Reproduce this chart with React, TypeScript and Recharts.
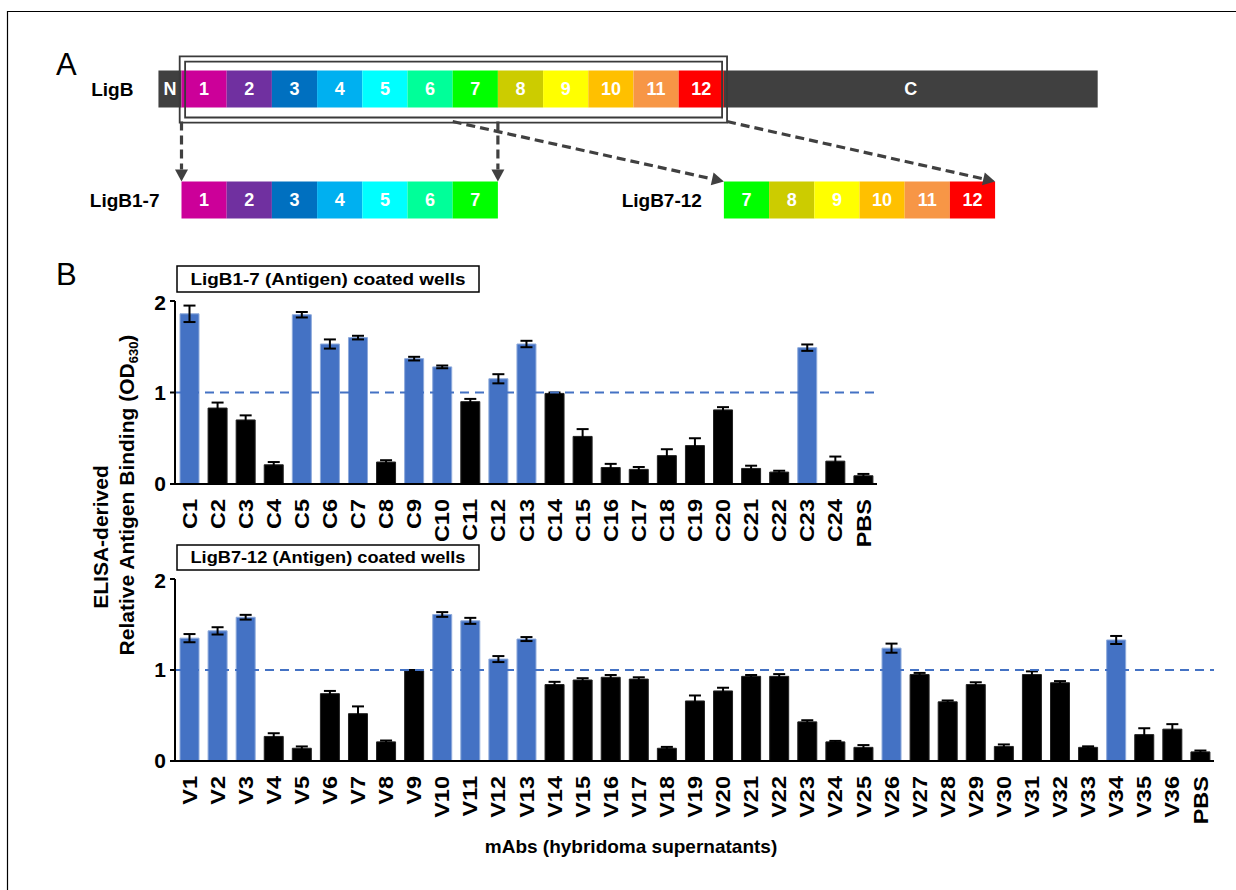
import React from 'react';
import {
  BarChart,
  Bar,
  XAxis,
  YAxis,
  Cell,
  ErrorBar,
  ReferenceLine,
  ReferenceArea,
  ComposedChart,
  Scatter,
} from 'recharts';

const FONT = '"Liberation Sans", Arial, Helvetica, sans-serif';
const BLUE = '#4472C4';
const DARK = '#404040';

// ---------- Panel A data ----------
const domainColors = [
  '#CC0099', '#7030A0', '#0070C0', '#00B0F0', '#00FFFF', '#00FF99',
  '#00FF00', '#CCCC00', '#FFFF00', '#FFC000', '#F79646', '#FF0000',
];
const terminalColor = '#404040';
const ligBSegments = ['N', '1', '2', '3', '4', '5', '6', '7', '8', '9', '10', '11', '12', 'C'];
const ligBLengths = [0.51, 1, 1, 1, 1, 1, 1, 1, 1, 1, 1, 1, 1, 8.27];
const ligB17Domains = [1, 2, 3, 4, 5, 6, 7];
const ligB712Domains = [7, 8, 9, 10, 11, 12];

// ---------- Panel B data ----------
const cLabels = ['C1', 'C2', 'C3', 'C4', 'C5', 'C6', 'C7', 'C8', 'C9', 'C10', 'C11', 'C12', 'C13', 'C14', 'C15', 'C16', 'C17', 'C18', 'C19', 'C20', 'C21', 'C22', 'C23', 'C24', 'PBS'];
const cValues = [1.86, 0.83, 0.70, 0.21, 1.85, 1.53, 1.60, 0.24, 1.37, 1.28, 0.90, 1.15, 1.53, 0.99, 0.52, 0.18, 0.16, 0.31, 0.42, 0.81, 0.17, 0.13, 1.49, 0.25, 0.09];
const cErrors = [0.09, 0.06, 0.05, 0.03, 0.03, 0.05, 0.02, 0.02, 0.02, 0.015, 0.03, 0.05, 0.035, 0.01, 0.08, 0.04, 0.026, 0.07, 0.08, 0.03, 0.03, 0.015, 0.035, 0.05, 0.02];

const vLabels = ['V1', 'V2', 'V3', 'V4', 'V5', 'V6', 'V7', 'V8', 'V9', 'V10', 'V11', 'V12', 'V13', 'V14', 'V15', 'V16', 'V17', 'V18', 'V19', 'V20', 'V21', 'V22', 'V23', 'V24', 'V25', 'V26', 'V27', 'V28', 'V29', 'V30', 'V31', 'V32', 'V33', 'V34', 'V35', 'V36', 'PBS'];
const vValues = [1.35, 1.43, 1.58, 0.27, 0.14, 0.74, 0.52, 0.21, 0.99, 1.61, 1.54, 1.12, 1.34, 0.84, 0.89, 0.92, 0.90, 0.14, 0.66, 0.77, 0.93, 0.93, 0.43, 0.21, 0.15, 1.24, 0.95, 0.65, 0.84, 0.16, 0.95, 0.86, 0.15, 1.33, 0.29, 0.35, 0.10];
const vErrors = [0.045, 0.04, 0.026, 0.035, 0.02, 0.03, 0.08, 0.015, 0.01, 0.026, 0.033, 0.033, 0.022, 0.03, 0.02, 0.025, 0.02, 0.015, 0.06, 0.035, 0.015, 0.025, 0.018, 0.011, 0.025, 0.05, 0.018, 0.015, 0.025, 0.022, 0.035, 0.018, 0.011, 0.044, 0.07, 0.055, 0.015];

const yTicks = [0, 1, 2];
const cutoff = 1;

// ---------- Panel A layout (domain units) ----------
const X_DOMAIN: [number, number] = [-4.0155, 23.33];
const Y_DOMAIN: [number, number] = [-0.5, 4.5];
const ROW_FULL = 0;
const ROW_SUB = 3;
const SUB17_START = 0;
const SUB712_START = 12;
const FRAME_OUTER = { x1: -0.04, x2: 12.07, y1: -0.38, y2: 1.41 };
const FRAME_INNER = { x1: 0.08, x2: 11.96, y1: -0.24, y2: 1.27 };
const ARROW_FROM_Y = 1.38;

type Seg = { x1: number; x2: number; y1: number; y2: number; label: string; color: string };

function buildFull(): Seg[] {
  const segs: Seg[] = [];
  let x = -ligBLengths[0];
  ligBSegments.forEach((s, i) => {
    const len = ligBLengths[i];
    const isTerm = s === 'N' || s === 'C';
    segs.push({
      x1: x, x2: x + len, y1: ROW_FULL, y2: ROW_FULL + 1, label: s,
      color: isTerm ? terminalColor : domainColors[Number(s) - 1],
    });
    x += len;
  });
  return segs;
}

function buildSub(domains: number[], start: number): Seg[] {
  return domains.map((d, i) => ({
    x1: start + i, x2: start + i + 1, y1: ROW_SUB, y2: ROW_SUB + 1,
    label: String(d), color: domainColors[d - 1],
  }));
}

const ArrowShape = (p: any) => {
  const { x1, y1, x2, y2 } = p;
  if ([x1, y1, x2, y2].some((v) => typeof v !== 'number' || isNaN(v))) return null;
  const dx = x2 - x1;
  const dy = y2 - y1;
  const len = Math.hypot(dx, dy) || 1;
  const ux = dx / len;
  const uy = dy / len;
  const L = 12;
  const W = 6.5;
  const bx = x2 - ux * L;
  const by = y2 - uy * L;
  return (
    <g>
      <line x1={x1} y1={y1} x2={bx} y2={by} stroke={DARK} strokeWidth={3.2} strokeDasharray="9 5" />
      <polygon
        points={`${x2},${y2} ${bx - uy * W},${by + ux * W} ${bx + uy * W},${by - ux * W}`}
        fill={DARK}
      />
    </g>
  );
};

const NoShape = () => <g />;

function DomainMap() {
  const full = buildFull();
  const s17 = buildSub(ligB17Domains, SUB17_START);
  const s712 = buildSub(ligB712Domains, SUB712_START);
  const all = [...full, ...s17, ...s712];
  const pts = all.map((s) => ({ x: (s.x1 + s.x2) / 2, y: (s.y1 + s.y2) / 2 }));
  const constructs = [
    { name: 'LigB', x1: full[0].x1, x2: full[full.length - 1].x2, y: ROW_FULL, offset: 25 },
    { name: 'LigB1-7', x1: s17[0].x1, x2: s17[s17.length - 1].x2, y: ROW_SUB, offset: 22 },
    { name: 'LigB7-12', x1: s712[0].x1, x2: s712[s712.length - 1].x2, y: ROW_SUB, offset: 22 },
  ];
  const arrows = [
    { fx: ligB17Domains[0] - 1, tx: s17[0].x1 },
    { fx: ligB17Domains[ligB17Domains.length - 1], tx: s17[s17.length - 1].x2 },
    { fx: ligB712Domains[0] - 1, tx: s712[0].x1 },
    { fx: FRAME_OUTER.x2, tx: s712[s712.length - 1].x2 },
  ];
  return (
    <div style={{ position: 'absolute', left: 0, top: 51.5 }}>
      <ComposedChart width={1236} height={185} data={pts} margin={{ top: 0, right: 0, bottom: 0, left: 0 }}>
        <XAxis type="number" dataKey="x" domain={X_DOMAIN} hide allowDataOverflow />
        <YAxis type="number" dataKey="y" domain={Y_DOMAIN} reversed hide allowDataOverflow />
        <Scatter data={pts} dataKey="y" fill="none" shape={NoShape} isAnimationActive={false} />
        {all.map((s, i) => (
          <ReferenceArea
            key={'seg' + i}
            x1={s.x1}
            x2={s.x2}
            y1={s.y1}
            y2={s.y2}
            fill={s.color}
            fillOpacity={1}
            stroke="none"
            ifOverflow="visible"
            label={{ value: s.label, position: 'center', fill: '#fff', fontSize: 18, fontWeight: 'bold' }}
          />
        ))}
        {constructs.map((c, i) => (
          <ReferenceArea
            key={'con' + i}
            x1={c.x1}
            x2={c.x2}
            y1={c.y}
            y2={c.y + 1}
            fill="none"
            fillOpacity={0}
            stroke="none"
            ifOverflow="visible"
            label={{ value: c.name, position: 'left', offset: c.offset, fill: '#000', fontSize: 19, fontWeight: 'bold' }}
          />
        ))}
        {[FRAME_OUTER, FRAME_INNER].map((f, i) => (
          <ReferenceArea
            key={'frame' + i}
            x1={f.x1}
            x2={f.x2}
            y1={f.y1}
            y2={f.y2}
            fill="none"
            fillOpacity={0}
            stroke="#3a3a3a"
            strokeWidth={1.8}
            ifOverflow="visible"
          />
        ))}
        {arrows.map((a, i) => (
          <ReferenceLine
            key={'arr' + i}
            segment={[{ x: a.fx, y: ARROW_FROM_Y }, { x: a.tx, y: ROW_SUB }]}
            stroke={DARK}
            strokeWidth={3}
            ifOverflow="visible"
            shape={ArrowShape}
          />
        ))}
      </ComposedChart>
    </div>
  );
}

const RotTick = (props: any) => {
  const { x, y, payload } = props;
  return (
    <text
      x={0}
      y={0}
      transform={`translate(${x}, ${y}) rotate(-90) scale(1.12, 1)`}
      textAnchor="end"
      dy="0.36em"
      fontSize={21}
      fontWeight="bold"
      fill="#000"
    >
      {payload.value}
    </text>
  );
};

function ElisaChart(props: {
  labels: string[];
  values: number[];
  errors: number[];
  top: number;
  width: number;
  height: number;
  right: number;
}) {
  const { labels, values, errors, top, width, height, right } = props;
  const data = labels.map((l, i) => ({ name: l, value: values[i], err: errors[i] }));
  return (
    <div style={{ position: 'absolute', left: 0, top }}>
      <BarChart
        width={width}
        height={height}
        data={data}
        margin={{ top: 11, right, bottom: 0, left: 135 }}
        barSize={19}
      >
        <XAxis
          dataKey="name"
          interval={0}
          tickLine={false}
          axisLine={{ stroke: '#000', strokeWidth: 2 }}
          tick={RotTick}
          tickMargin={9}
          height={76}
        />
        <YAxis
          type="number"
          domain={[0, 2]}
          ticks={yTicks}
          width={40}
          axisLine={{ stroke: '#000', strokeWidth: 2 }}
          tickLine={{ stroke: '#000', strokeWidth: 2 }}
          tickSize={5}
          tickMargin={4}
          tick={{ fill: '#000', fontSize: 21, fontWeight: 'bold' }}
        />
        <Bar dataKey="value" isAnimationActive={false}>
          {data.map((d, i) => (
            <Cell
              key={i}
              fill={d.value > cutoff ? BLUE : '#000'}
              stroke={d.value > cutoff ? '#8EAADB' : '#222'}
              strokeWidth={1}
            />
          ))}
          <ErrorBar dataKey="err" width={6} strokeWidth={2} stroke="#000" direction="y" isAnimationActive={false} />
        </Bar>
        <ReferenceLine y={cutoff} stroke={BLUE} strokeWidth={2} strokeDasharray="9 6" />
      </BarChart>
    </div>
  );
}

export default function App() {
  return (
    <div
      style={{
        position: 'absolute',
        left: 0,
        top: 0,
        width: 1236,
        height: 890,
        background: '#fff',
        fontFamily: FONT,
        overflow: 'hidden',
      }}
    >
      <DomainMap />
      <ElisaChart labels={cLabels} values={cValues} errors={cErrors} top={290} width={900} height={270} right={23} />
      <ElisaChart labels={vLabels} values={vValues} errors={vErrors} top={568} width={1236} height={269} right={22} />
      <svg
        width={1236}
        height={890}
        style={{ position: 'absolute', left: 0, top: 0, pointerEvents: 'none', fontFamily: FONT }}
      >
        <line x1={7} y1={11.5} x2={1236} y2={11.5} stroke="#000" strokeWidth={1.2} />
        <line x1={7.5} y1={11} x2={7.5} y2={890} stroke="#000" strokeWidth={1.2} />
        <text x={56} y={75} fontSize={31} fill="#000">A</text>
        <text x={56} y={285} fontSize={31} fill="#000">B</text>

        <rect x={177} y={266} width={302} height={26} fill="#fff" stroke="#000" strokeWidth={1.5} />
        <text x={328} y={285} textAnchor="middle" fontSize={17} fontWeight="bold" fill="#000" textLength={275} lengthAdjust="spacingAndGlyphs">
          LigB1-7 (Antigen) coated wells
        </text>
        <rect x={177} y={545} width={302} height={25} fill="#fff" stroke="#000" strokeWidth={1.5} />
        <text x={328} y={563} textAnchor="middle" fontSize={17} fontWeight="bold" fill="#000" textLength={275} lengthAdjust="spacingAndGlyphs">
          LigB7-12 (Antigen) coated wells
        </text>

        <text transform="translate(108,537) rotate(-90)" textAnchor="middle" fontSize={21} fontWeight="bold" fill="#000">
          ELISA-derived
        </text>
        <text transform="translate(134,495) rotate(-90)" textAnchor="middle" fontSize={21} fontWeight="bold" fill="#000">
          Relative Antigen Binding (OD
          <tspan dy={4} fontSize={13}>630</tspan>
          <tspan dy={-4}>)</tspan>
        </text>

        <text x={631} y={853} textAnchor="middle" fontSize={19} fontWeight="bold" fill="#000">
          mAbs (hybridoma supernatants)
        </text>
      </svg>
    </div>
  );
}
